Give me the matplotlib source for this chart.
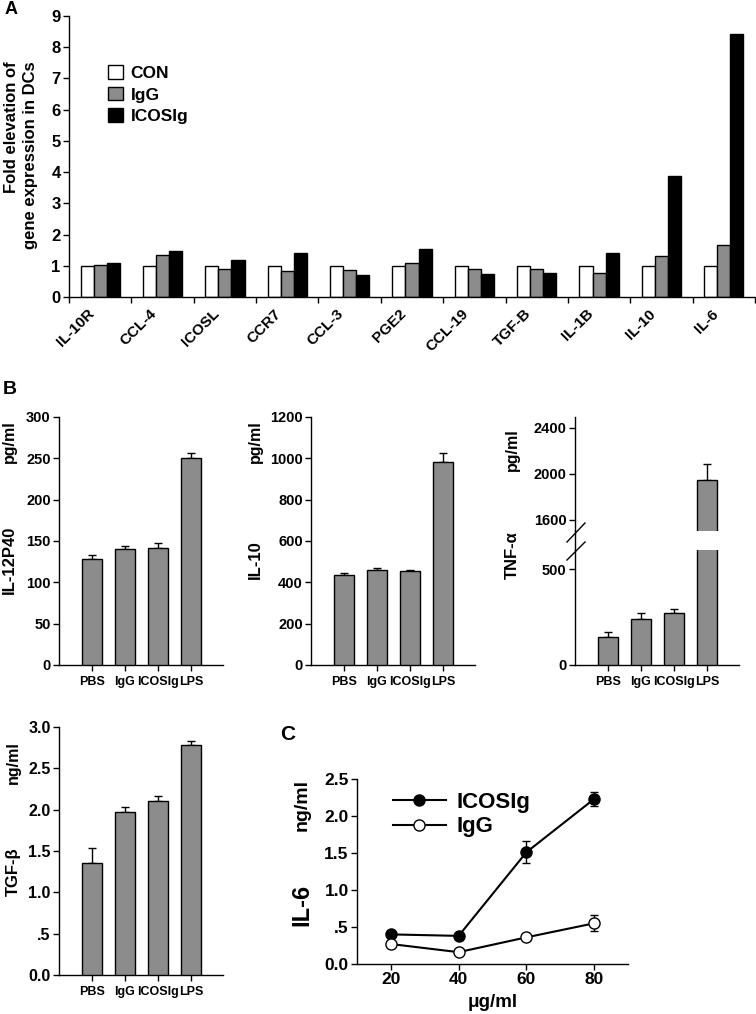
import numpy as np
import matplotlib
matplotlib.use('Agg')
import matplotlib.pyplot as plt
from matplotlib.lines import Line2D
from matplotlib.transforms import ScaledTranslation

plt.rcParams['font.family'] = ['Liberation Sans', 'DejaVu Sans']
plt.rcParams['font.weight'] = 'bold'
plt.rcParams['axes.labelweight'] = 'bold'

W, H = 756, 1014

## panel A data
genes = ['IL-10R', 'CCL-4', 'ICOSL', 'CCR7', 'CCL-3', 'PGE2', 'CCL-19', 'TGF-B', 'IL-1B', 'IL-10', 'IL-6']
series_a = ['CON', 'IgG', 'ICOSIg']
con = [1, 1, 1, 1, 1, 1, 1, 1, 1, 1, 1]
igg = [1.04, 1.36, 0.91, 0.84, 0.88, 1.10, 0.91, 0.91, 0.78, 1.32, 1.68]
icosig = [1.08, 1.46, 1.18, 1.42, 0.69, 1.53, 0.73, 0.76, 1.42, 3.87, 8.42]

## panel B data
groups = ['PBS', 'IgG', 'ICOSIg', 'LPS']
il12p40 = [128.5, 140.5, 141.8, 251]
il12p40_err = [4.5, 3.3, 6.2, 6]
il10 = [437, 461, 453, 984]
il10_err = [9, 9, 9, 40]
tnf = [144, 238, 269, 1948]
tnf_err = [26, 31, 21, 136]
tgfb = [1.357, 1.973, 2.10, 2.78]
tgfb_err = [0.177, 0.06, 0.07, 0.05]

## panel C data
series_c = ['ICOSIg', 'IgG']
dose = [20, 40, 60, 80]
il6_icosig = [0.40, 0.38, 1.51, 2.23]
il6_icosig_err = [0.03, 0.03, 0.15, 0.10]
il6_igg = [0.27, 0.16, 0.36, 0.55]
il6_igg_err = [0.03, 0.03, 0.03, 0.11]

GRAY = '#8c8c8c'


def px_axes(fig, x0, y0, x1, y1):
    # pixel box -> figure axes
    return fig.add_axes([x0 / W, 1 - y1 / H, (x1 - x0) / W, (y1 - y0) / H])


def ftxt(fig, x, y, s, **kw):
    fig.text(x / W, 1 - y / H, s, **kw)


def style(ax, fs):
    for s in ['top', 'right']:
        ax.spines[s].set_visible(False)
    for s in ['left', 'bottom']:
        ax.spines[s].set_linewidth(1.0)
    ax.tick_params(direction='out', length=4, width=1, labelsize=fs, pad=2)


def bar_panel(ax, vals, errs):
    x = np.arange(1, 5)
    ax.bar(x, vals, width=0.6, color=GRAY, edgecolor='black', linewidth=1, zorder=3)
    ax.errorbar(x, vals, yerr=[np.zeros(4), errs], fmt='none', ecolor='black',
                elinewidth=1, capsize=3, capthick=1, zorder=2)
    ax.set_xlim(0, 4.97)
    ax.set_xticks(x)
    ax.set_xticklabels(groups, fontsize=9)
    ax.tick_params(axis='x', pad=4)


fig = plt.figure(figsize=(W / 100, H / 100), dpi=100)

#*** PANEL A ***
axA = px_axes(fig, 69, 16, 755, 297)
style(axA, 12)
xg = np.arange(len(genes))
bw = 0.21
b0 = axA.bar(xg - bw, con, bw, color='white', edgecolor='black', linewidth=1)
b1 = axA.bar(xg, igg, bw, color=GRAY, edgecolor='black', linewidth=1)
b2 = axA.bar(xg + bw, icosig, bw, color='black', edgecolor='black', linewidth=1)
axA.set_xlim(-0.5, 10.5)
axA.set_ylim(0, 9)
axA.set_yticks(range(10))
axA.set_xticks(np.arange(-0.5, 11, 1))
axA.set_xticklabels([])
axA.set_xticks(xg, minor=True)
axA.set_xticklabels(genes, minor=True, rotation=45, ha='right', va='top',
                    rotation_mode='anchor', fontsize=11)
axA.tick_params(axis='x', which='minor', length=0, pad=7)
off = ScaledTranslation(-13 / 100, 0, fig.dpi_scale_trans)
for lab in axA.get_xticklabels(minor=True):
    lab.set_transform(lab.get_transform() + off)
axA.legend([b0, b1, b2], series_a, loc='upper left',
           bbox_to_anchor=(0.044, 0.855), frameon=False, fontsize=12.5,
           handlelength=0.85, handleheight=0.85, handletextpad=0.45,
           labelspacing=0.3, borderpad=0)
ftxt(fig, 21, 155, 'Fold elevation of\ngene expression in DCs', rotation=90,
     ha='center', va='center', multialignment='right', fontsize=12, linespacing=1.4)
ftxt(fig, 11, 10, 'A', ha='center', va='center', fontsize=13)

#*** PANEL B ***
ftxt(fig, 10, 390, 'B', ha='center', va='center', fontsize=14)

ax1 = px_axes(fig, 59, 417, 223, 665)
style(ax1, 10.5)
bar_panel(ax1, il12p40, il12p40_err)
ax1.set_ylim(0, 300)
ax1.set_yticks(range(0, 301, 50))
ftxt(fig, 9, 442, 'pg/ml', rotation=90, ha='center', va='center', fontsize=11.5)
ftxt(fig, 9, 560, 'IL-12P40', rotation=90, ha='center', va='center', fontsize=12)

ax2 = px_axes(fig, 311, 417, 475, 665)
style(ax2, 10.5)
bar_panel(ax2, il10, il10_err)
ax2.set_ylim(0, 1200)
ax2.set_yticks(range(0, 1201, 200))
ftxt(fig, 255, 442, 'pg/ml', rotation=90, ha='center', va='center', fontsize=11.5)
ftxt(fig, 255, 560, 'IL-10', rotation=90, ha='center', va='center', fontsize=12)

# TNF-a with broken axis
ax3u = px_axes(fig, 575, 417, 739, 531)
ax3l = px_axes(fig, 575, 550, 739, 665)
style(ax3u, 10.5)
style(ax3l, 10.5)
bar_panel(ax3u, tnf, tnf_err)
bar_panel(ax3l, tnf, tnf_err)
ax3u.set_ylim(1500, 2493)
ax3u.set_yticks([1600, 2000, 2400])
ax3u.spines['bottom'].set_visible(False)
ax3u.tick_params(axis='x', bottom=False, labelbottom=False)
ax3l.set_ylim(0, 599)
ax3l.set_yticks([0, 500])
fig.add_artist(Line2D([575 / W, 575 / W], [1 - 531 / H, 1 - 550 / H], color='black', lw=1))
fig.add_artist(Line2D([567 / W, 585 / W], [1 - 542 / H, 1 - 523 / H], color='black', lw=1))
fig.add_artist(Line2D([567 / W, 585 / W], [1 - 560 / H, 1 - 542 / H], color='black', lw=1))
ftxt(fig, 512, 450, 'pg/ml', rotation=90, ha='center', va='center', fontsize=11.5)
ftxt(fig, 512, 555, 'TNF-\u03b1', rotation=90, ha='center', va='center', fontsize=12)

# TGF-b
ax4 = px_axes(fig, 59, 727, 223, 975)
style(ax4, 10.5)
bar_panel(ax4, tgfb, tgfb_err)
ax4.set_ylim(0, 3)
ax4.set_yticks([0, 0.5, 1, 1.5, 2, 2.5, 3])
ax4.set_yticklabels(['0.0', '.5', '1.0', '1.5', '2.0', '2.5', '3.0'], fontsize=11.5)
ftxt(fig, 13, 763, 'ng/ml', rotation=90, ha='center', va='center', fontsize=11.5)
ftxt(fig, 13, 872, 'TGF-\u03b2', rotation=90, ha='center', va='center', fontsize=12)

#*** PANEL C ***
axC = px_axes(fig, 357, 779, 628, 964)
style(axC, 12.5)
axC.errorbar(dose, il6_icosig, yerr=il6_icosig_err, color='black', lw=1.5, marker='o',
             ms=8, mfc='black', mec='black', capsize=3, elinewidth=1)
axC.errorbar(dose, il6_igg, yerr=il6_igg_err, color='black', lw=1.5, marker='o',
             ms=8, mfc='white', mec='black', capsize=3, elinewidth=1)
axC.set_xlim(10, 90)
axC.set_ylim(0, 2.5)
axC.set_xticks(dose)
axC.set_yticks([0, 0.5, 1, 1.5, 2, 2.5])
axC.set_yticklabels(['0.0', '.5', '1.0', '1.5', '2.0', '2.5'])
axC.set_xlabel('\u03bcg/ml', fontsize=13.5, labelpad=5)
hC = [Line2D([], [], color='black', lw=1.5, marker='o', ms=8, mfc='black', mec='black'),
      Line2D([], [], color='black', lw=1.5, marker='o', ms=8, mfc='white', mec='black')]
axC.legend(hC, series_c, loc='upper left', bbox_to_anchor=(0.09, 0.99),
           frameon=False, fontsize=16, handlelength=2.4, handletextpad=0.5,
           labelspacing=0.15, borderpad=0)
ftxt(fig, 302, 805, 'ng/ml', rotation=90, ha='center', va='center', fontsize=14)
ftxt(fig, 302, 905, 'IL-6', rotation=90, ha='center', va='center', fontsize=17)
ftxt(fig, 288, 735, 'C', ha='center', va='center', fontsize=15)

fig.savefig('out.png', dpi=100)
